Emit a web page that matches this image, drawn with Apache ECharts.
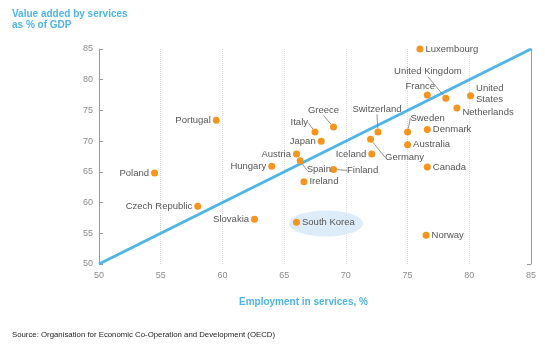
<!DOCTYPE html>
<html>
<head>
<meta charset="utf-8">
<script src="https://cdn.jsdelivr.net/npm/echarts@6/dist/echarts.min.js"></script>
<style>
  html, body { margin: 0; padding: 0; background: #fff; }
  #main { width: 545px; height: 352px; }
</style>
</head>
<body>
<div id="main"></div>
<script>
// data
var countries = ['Luxembourg', 'United Kingdom', 'France', 'United States', 'Netherlands',
  'Sweden', 'Denmark', 'Australia', 'Switzerland', 'Germany', 'Iceland', 'Greece', 'Italy',
  'Japan', 'Austria', 'Spain', 'Hungary', 'Ireland', 'Finland', 'Canada', 'Norway',
  'South Korea', 'Slovakia', 'Czech Republic', 'Poland', 'Portugal'];
var employment = [76.0, 78.1, 76.6, 80.1, 79.0, 75.0, 76.6, 75.0, 72.6, 72.0, 72.1, 69.0, 67.5,
  68.0, 66.0, 66.3, 64.0, 66.6, 69.0, 76.6, 76.5, 66.0, 62.6, 58.0, 54.5, 59.5];
var valueAdded = [85.0, 77.0, 77.5, 77.4, 75.4, 71.5, 71.9, 69.4, 71.5, 70.3, 67.9, 72.3, 71.5,
  70.0, 67.9, 66.8, 65.9, 63.4, 65.4, 65.8, 54.7, 56.8, 57.3, 59.4, 64.8, 73.4];
var diagonal = [[50, 50], [85, 85]];
var highlight = [[68.4, 56.6]]; // South Korea bubble
var ticks = [50, 55, 60, 65, 70, 75, 80, 85];

// label placement: position, dx, dy, leader line
var labelSpec = {
  'Luxembourg': ['right'],
  'United Kingdom': ['top', -18, -16, true],
  'France': ['top', -7, 2],
  'United States': ['right', 0, -1.5],
  'Netherlands': ['right', 0, 4.5],
  'Sweden': ['top', 20, -3, true],
  'Denmark': ['right'],
  'Australia': ['right'],
  'Switzerland': ['top', -1, -12, true],
  'Germany': ['right', 9, 18, true],
  'Iceland': ['left'],
  'Greece': ['top', -10, -6, true],
  'Italy': ['left', -1.5, -9.5, true],
  'Japan': ['left'],
  'Austria': ['left'],
  'Spain': ['right', 1, 9, true],
  'Hungary': ['left'],
  'Ireland': ['right'],
  'Finland': ['right', 8, 1, true],
  'Canada': ['right'],
  'Norway': ['right'],
  'South Korea': ['right'],
  'Slovakia': ['left'],
  'Czech Republic': ['left'],
  'Poland': ['left'],
  'Portugal': ['left']
};

var blue = '#4db5e8';
var gray = '#8a8a8a';

var points = countries.map(function (name, i) {
  var s = labelSpec[name];
  return {
    name: name,
    value: [employment[i], valueAdded[i]],
    label: {
      position: s[0],
      formatter: name === 'United States' ? 'United\nStates' : '{b}'
    },
    labelLine: { show: !!s[3] }
  };
});

var chart = echarts.init(document.getElementById('main'));
var option = {
  animation: false,
  textStyle: { fontFamily: 'Liberation Sans, Arial, sans-serif' },
  title: [
    {
      text: 'Value added by services\nas % of GDP',
      left: 7, top: 4,
      textStyle: { fontSize: 10, fontWeight: 'bold', color: blue, lineHeight: 11 }
    },
    {
      text: 'Employment in services, %',
      left: 234, top: 292,
      textStyle: { fontSize: 10, fontWeight: 'bold', color: blue }
    },
    {
      text: 'Source: Organisation for Economic Co-Operation and Development (OECD)',
      left: 7, top: 326,
      textStyle: { fontSize: 7.8, fontWeight: 'normal', color: '#222' }
    }
  ],
  grid: { left: 99, right: 14, top: 49, bottom: 88 },
  xAxis: {
    type: 'value', min: 50, max: 85, interval: 5,
    axisLine: { show: false },
    axisTick: { show: false },
    axisLabel: { color: gray, fontSize: 9, margin: 7 },
    splitLine: { show: true, lineStyle: { color: '#dcdcdc', type: 'dotted', width: 1 } }
  },
  yAxis: [
    {
      type: 'value', min: 50, max: 85, interval: 5,
      axisLine: { show: true, lineStyle: { color: '#999', width: 1 } },
      axisTick: { show: true, inside: true, length: 4, lineStyle: { color: '#999' } },
      axisLabel: { color: gray, fontSize: 9, margin: 6 },
      splitLine: { show: false }
    },
    {
      type: 'value', min: 50, max: 85, position: 'right',
      axisLine: { show: true, lineStyle: { color: '#999', width: 1 } },
      axisTick: { show: true, inside: true, length: 4, customValues: [50, 85], lineStyle: { color: '#999' } },
      axisLabel: { show: false },
      splitLine: { show: false }
    }
  ],
  series: [
    {
      type: 'scatter',
      data: highlight,
      symbol: 'circle',
      symbolSize: [74, 26],
      itemStyle: { color: '#d3e8f7' },
      silent: true,
      z: 1
    },
    {
      type: 'line',
      data: diagonal,
      symbol: 'none',
      lineStyle: { color: blue, width: 3 },
      silent: true,
      z: 2
    },
    {
      type: 'scatter',
      data: points,
      symbolSize: 7,
      itemStyle: { color: '#f7941d', opacity: 1 },
      label: {
        show: true,
        distance: 2,
        color: '#555',
        fontSize: 9.5,
        lineHeight: 11
      },
      labelLine: { show: false, lineStyle: { color: '#777', width: 0.8 } },
      labelLayout: function (params) {
        var s = labelSpec[countries[params.dataIndex]];
        return { dx: s[1] || 0, dy: s[2] || 0 };
      },
      z: 3
    }
  ]
};
chart.setOption(option);
</script>
</body>
</html>
